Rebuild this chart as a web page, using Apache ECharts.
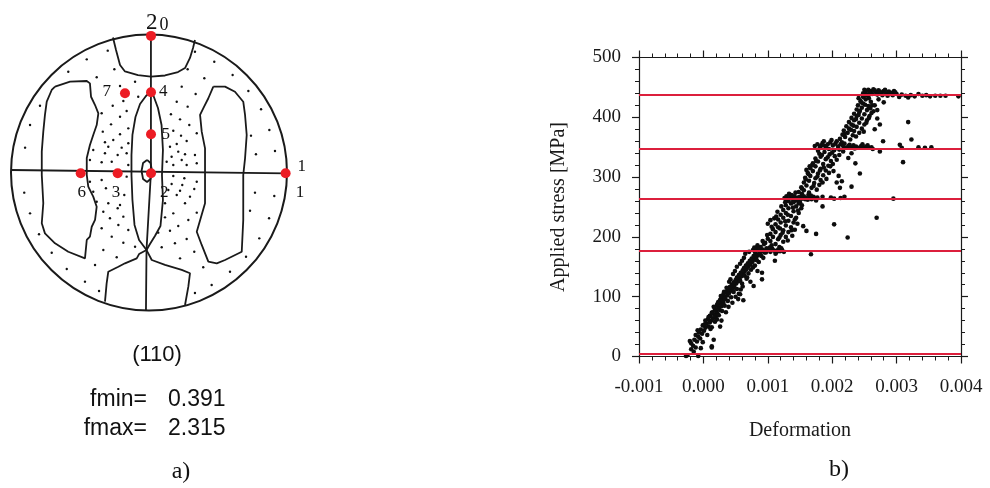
<!DOCTYPE html>
<html><head><meta charset="utf-8">
<script src="https://cdn.jsdelivr.net/npm/echarts@6/dist/echarts.min.js"></script>
<style>html,body{margin:0;padding:0;background:#fff}#c{width:990px;height:488px}</style>
</head><body><div id="c"></div><script>
// ---------- (a) pole figure (110), projection coordinates, unit circle ----------
const topCapContour = [[-0.261,0.978],[-0.239,0.888],[-0.210,0.779],[-0.174,0.732],[-0.080,0.706],[0.014,0.694],[0.116,0.703],[0.210,0.728],[0.261,0.757],[0.297,0.830],[0.319,0.902],[0.333,0.960]];
const leftBlobContour = [[-0.681,0.622],[-0.572,0.658],[-0.451,0.663],[-0.428,0.646],[-0.420,0.549],[-0.391,0.489],[-0.367,0.429],[-0.379,0.344],[-0.404,0.272],[-0.428,0.199],[-0.451,0.105],[-0.451,-0.018],[-0.440,-0.103],[-0.404,-0.175],[-0.379,-0.248],[-0.391,-0.344],[-0.415,-0.393],[-0.428,-0.465],[-0.451,-0.489],[-0.464,-0.622],[-0.585,-0.574],[-0.681,-0.513],[-0.754,-0.441],[-0.777,-0.368],[-0.766,-0.223],[-0.777,-0.018],[-0.777,0.151],[-0.766,0.296],[-0.754,0.417],[-0.741,0.513],[-0.705,0.598],[-0.681,0.622]];
const rightBlobContour = [[0.466,0.622],[0.551,0.622],[0.623,0.585],[0.683,0.513],[0.696,0.417],[0.708,0.272],[0.696,0.103],[0.683,-0.018],[0.683,-0.344],[0.672,-0.574],[0.551,-0.634],[0.491,-0.658],[0.430,-0.646],[0.382,-0.525],[0.346,-0.429],[0.406,-0.223],[0.406,-0.018],[0.406,0.175],[0.382,0.296],[0.370,0.417],[0.393,0.465],[0.430,0.538],[0.466,0.622]];
const centralLensContour = [[0.011,0.583],[-0.022,0.554],[-0.065,0.496],[-0.098,0.402],[-0.120,0.272],[-0.127,0.127],[-0.127,-0.018],[-0.120,-0.199],[-0.105,-0.380],[-0.072,-0.489],[-0.018,-0.562],[0.007,-0.518],[0.043,-0.460],[0.083,-0.388],[0.101,-0.199],[0.094,-0.018],[0.101,0.163],[0.091,0.344],[0.065,0.467],[0.033,0.554],[0.011,0.583]];
const centerLoopContour = [[-0.014,0.091],[0.011,0.069],[0.022,0.011],[0.011,-0.047],[-0.014,-0.069],[-0.043,-0.047],[-0.054,0.011],[-0.043,0.069],[-0.014,0.091]];
const bottomCapLeft = [[-0.018,-0.562],[-0.072,-0.591],[-0.089,-0.622],[-0.174,-0.658],[-0.222,-0.683],[-0.295,-0.719],[-0.307,-0.803],[-0.319,-0.936]];
const bottomCapRight = [[-0.018,-0.562],[0.020,-0.634],[0.116,-0.670],[0.237,-0.706],[0.297,-0.730],[0.285,-0.827],[0.261,-0.960]];
const meridianLine = [[0.014,1.0],[0.014,0.0],[-0.018,-0.56],[-0.022,-1.0]];
const equatorLine = [[-1.0,0.018],[0.993,-0.007]];
const stippleDots = [
[-0.299,0.883],[-0.451,0.820],[-0.251,0.748],[-0.585,0.730],[-0.379,0.690],[-0.210,0.627],[-0.101,0.658],[-0.790,0.484],[-0.263,0.484],[-0.078,0.549],[-0.186,0.518],[-0.862,0.344],[-0.343,0.429],[-0.210,0.404],[-0.275,0.349],[-0.162,0.446],[-0.150,0.320],[-0.335,0.296],[-0.210,0.277],[-0.259,0.235],[-0.319,0.219],[-0.898,0.180],[-0.404,0.163],[-0.295,0.187],[-0.198,0.180],[-0.150,0.212],[-0.319,0.139],[-0.227,0.127],[-0.162,0.139],[-0.428,0.091],[-0.343,0.074],[-0.270,0.078],[-0.150,0.054],
[0.333,0.875],[0.473,0.803],[0.280,0.748],[0.606,0.706],[0.401,0.683],[0.237,0.622],[0.720,0.591],[0.338,0.569],[0.201,0.513],[0.280,0.477],[0.812,0.458],[0.159,0.422],[0.225,0.385],[0.292,0.344],[0.872,0.308],[0.176,0.303],[0.346,0.284],[0.739,0.267],[0.232,0.267],[0.273,0.228],[0.201,0.207],[0.152,0.187],[0.913,0.156],[0.775,0.132],[0.212,0.151],[0.261,0.132],[0.333,0.127],[0.164,0.114],[0.237,0.091],[0.128,0.078],[0.346,0.067],[0.176,0.054],[0.273,0.054],
[-0.428,-0.067],[-0.343,-0.054],[-0.162,-0.030],[-0.904,-0.146],[-0.404,-0.139],[-0.312,-0.114],[-0.179,-0.163],[-0.379,-0.212],[-0.295,-0.223],[-0.210,-0.235],[-0.862,-0.296],[-0.331,-0.284],[-0.227,-0.259],[-0.283,-0.332],[-0.186,-0.320],[-0.343,-0.404],[-0.222,-0.380],[-0.150,-0.417],[-0.797,-0.448],[-0.270,-0.465],[-0.186,-0.509],[-0.101,-0.538],[-0.331,-0.562],[-0.705,-0.581],[-0.234,-0.614],[-0.391,-0.670],[-0.596,-0.699],[-0.464,-0.791],[-0.362,-0.859],
[0.176,-0.025],[0.256,-0.042],[0.346,-0.067],[0.164,-0.083],[0.241,-0.091],[0.140,-0.127],[0.225,-0.132],[0.328,-0.120],[0.201,-0.163],[0.297,-0.175],[0.768,-0.146],[0.908,-0.170],[0.116,-0.223],[0.261,-0.223],[0.346,-0.291],[0.176,-0.296],[0.732,-0.277],[0.116,-0.325],[0.285,-0.344],[0.212,-0.388],[0.870,-0.332],[0.067,-0.436],[0.152,-0.422],[0.273,-0.482],[0.799,-0.477],[0.188,-0.513],[0.092,-0.542],[0.328,-0.574],[0.225,-0.622],[0.703,-0.610],[0.393,-0.687],[0.587,-0.719],[0.454,-0.815],[0.333,-0.873]
];
const measurePoints = [[0.0145,0.99],[0.0145,0.581],[-0.174,0.574],[0.0145,0.277],[0.0145,-0.006],[-0.227,-0.006],[-0.495,-0.006],[0.99,-0.006]];
const measureLabelText = ['2','0','7','4','5','1','1','6','3','2'];
const measureLabelPos = [[0.020,1.085],[0.109,1.069],[-0.307,0.585],[0.104,0.585],[0.121,0.272],[1.106,0.042],[1.094,-0.146],[-0.488,-0.146],[-0.239,-0.146],[0.111,-0.146]];
const measureLabelSize = [23,18,17,17,17,17,17,17,17,17];

// ---------- (b) applied stress vs deformation ----------
const xTicks = [-0.001, 0.000, 0.001, 0.002, 0.003, 0.004];
const stressLevels = [5, 177, 263, 348, 438];
const elasticBand = [[-0.00025,2],[-0.00008,1],[-0.00027,1],[-0.00019,12],[-0.00012,15],[-0.00004,14],[-0.00016,18],[-0.00019,22],[-0.00010,25],[-0.00014,28],[-0.00005,30],[-0.00008,33],[-0.00012,36],[-0.00002,38],[-0.00007,40],[0.00001,43],[-0.00004,45],[0.00003,48],[0.00008,50],[-0.00001,52],[0.00005,55],[0.00010,57],[0.00013,17],[0.00013,15],[0.00016,28],[0.00012,60],[0.00007,62],[0.00015,64],[0.00019,66],[0.00011,68],[0.00017,70],[0.00022,72],[0.00014,74],[0.00020,76],[0.00025,78],[0.00018,80],[0.00024,82],[0.00028,84],[0.00021,86],[0.00027,88],[0.00031,90],[0.00025,92],[0.00030,94],[0.00034,96],[0.00028,98],[0.00033,100],[0.00037,102],[0.00031,104],[0.00040,106],[0.00035,108],[0.00043,110],[0.00038,112],[0.00046,114],[0.00041,116],[0.00048,118],[0.00044,120],[0.00051,122],[0.00047,124],[0.00054,126],[0.00050,128],[0.00056,130],[0.00052,132],[0.00059,134],[0.00055,136],[0.00062,138],[0.00058,140],[0.00064,142],[0.00061,144],[0.00067,146],[0.00063,148],[0.00070,150],[0.00066,152],[0.00073,154],[0.00069,156],[0.00076,158],[0.00072,160],[0.00079,162],[0.00075,164],[0.00082,166],[0.00078,168],[0.00085,170],[0.00081,172],[0.00088,174],[0.00026,50],[0.00013,49],[0.00050,100],[0.00055,105],[0.00026,95],[0.00022,88],[0.00045,90],[0.00058,112],[0.00060,122],[0.00032,108],[0.00040,125],[0.00067,130],[0.00046,138],[0.00074,145],[0.00052,150],[0.00080,152],[0.00086,158],[0.00060,160],[0.00090,168],[0.00065,172],[0.00095,174],[0.00018,78],[0.00035,74],[0.00010,68],[0.00028,60],[0.00003,60],[0.00062,94],[0.00057,104],[0.00078,118],[0.00091,129],[0.00091,140],[0.00111,160],
[-0.00015,8],[-0.00021,26],[-0.00001,24],[0.00006,36],[-0.00009,44],[0.00011,46],[0.00002,54],[0.00018,58],[0.00008,66],[0.00024,69],[0.00013,73],[0.00029,76],[0.00016,83],[0.00033,85],[0.00023,91],[0.00038,93],[0.00027,101],[0.00043,99],[0.00036,115],[0.00052,113],[0.00042,129],[0.00057,127],[0.00049,143],[0.00064,135],[0.00070,139],[0.00057,155],[0.00077,149],[0.00063,165],[0.00083,161],[0.00071,175],[0.00087,171],[0.00093,165],[0.00068,132],[0.00073,125],[0.00047,108],[0.00021,62],[0.00039,83],[0.00054,96],[0.00061,117],[0.00084,143]];
const plateau177 = [[0.00077,178],[0.00080,175],[0.00083,181],[0.00086,177],[0.00089,183],[0.00092,179],[0.00095,176],[0.00098,181],[0.00101,178],[0.00104,175],[0.00107,180],[0.00110,177],[0.00113,174],[0.00116,179],[0.00119,176],[0.00122,178],[0.00125,175],[0.00084,186],[0.00094,188],[0.00088,172],[0.00112,172],[0.00118,183],[0.00106,186],[0.00079,182],[0.00087,180],[0.00097,174],[0.00103,182],[0.00115,176],[0.00121,181],[0.00091,176]];
const band177to263 = [[0.00096,190],[0.00104,193],[0.00112,188],[0.00100,197],[0.00108,200],[0.00116,196],[0.00124,192],[0.00104,205],[0.00112,208],[0.00120,203],[0.00128,200],[0.00108,213],[0.00116,216],[0.00124,211],[0.00132,208],[0.00112,221],[0.00120,224],[0.00128,219],[0.00136,216],[0.00116,229],[0.00124,232],[0.00132,227],[0.00140,224],[0.00120,237],[0.00128,240],[0.00136,235],[0.00144,232],[0.00124,245],[0.00132,248],[0.00140,243],[0.00148,240],[0.00128,253],[0.00136,256],[0.00144,251],[0.00152,248],[0.00132,260],[0.00140,258],[0.00148,256],[0.00104,228],[0.00100,222],[0.00092,193],[0.00138,202],[0.00142,212],[0.00146,222],
[0.00099,203],[0.00118,199],[0.00131,194],[0.00106,217],[0.00123,207],[0.00137,211],[0.00119,214],[0.00110,231],[0.00127,226],[0.00142,229],[0.00115,242],[0.00131,237],[0.00147,244],[0.00121,251],[0.00139,249],[0.00153,253],[0.00127,258],[0.00145,261],[0.00113,234]];
const plateau263 = [[0.00126,265],[0.00129,268],[0.00132,263],[0.00135,267],[0.00138,264],[0.00141,268],[0.00144,265],[0.00147,262],[0.00150,267],[0.00153,264],[0.00156,268],[0.00159,265],[0.00162,262],[0.00165,266],[0.00168,263],[0.00171,267],[0.00174,264],[0.00177,266],[0.00185,267],[0.00198,266],[0.00203,264],[0.00213,265],[0.00219,267],[0.00133,272],[0.00143,274],[0.00153,272],[0.00163,270],[0.00140,260],[0.00150,258],[0.00128,262],[0.00137,270],[0.00146,266],[0.00158,263],[0.00167,269],[0.00175,261]];
const band263to348 = [[0.00148,275],[0.00156,278],[0.00164,274],[0.00152,283],[0.00160,286],[0.00168,282],[0.00176,279],[0.00156,291],[0.00164,294],[0.00172,290],[0.00180,287],[0.00158,299],[0.00166,302],[0.00174,298],[0.00182,295],[0.00162,307],[0.00170,310],[0.00178,306],[0.00186,303],[0.00166,315],[0.00174,318],[0.00182,314],[0.00190,311],[0.00170,323],[0.00178,326],[0.00186,322],[0.00194,319],[0.00174,331],[0.00182,334],[0.00190,330],[0.00198,327],[0.00180,339],[0.00188,342],[0.00196,338],[0.00204,335],[0.00160,312],[0.00165,318],
[0.00153,281],[0.00171,285],[0.00185,291],[0.00159,296],[0.00177,301],[0.00191,297],[0.00163,305],[0.00181,311],[0.00195,307],[0.00169,320],[0.00187,316],[0.00201,322],[0.00175,327],[0.00193,333],[0.00207,329],[0.00184,337],[0.00200,341],[0.00211,337],[0.00178,344]];
const plateau348 = [[0.00173,352],[0.00177,355],[0.00181,350],[0.00185,357],[0.00189,352],[0.00193,355],[0.00197,358],[0.00201,353],[0.00205,356],[0.00209,351],[0.00213,355],[0.00217,352],[0.00221,349],[0.00225,352],[0.00229,350],[0.00233,353],[0.00237,351],[0.00241,349],[0.00245,352],[0.00249,350],[0.00253,351],[0.00257,349],[0.00261,350],[0.00195,347],[0.00203,345],[0.00211,346],[0.00199,362],[0.00207,360],[0.00215,358],[0.00187,360],[0.00305,354],[0.00308,349],[0.00334,350],[0.00344,349],[0.00354,350],[0.00183,353],[0.00191,349],[0.00219,356],[0.00227,354],[0.00235,348],[0.00247,355],[0.00255,353],[0.00263,347]];
const band348to438 = [[0.00212,364],[0.00220,367],[0.00228,363],[0.00216,371],[0.00224,374],[0.00232,370],[0.00218,378],[0.00226,381],[0.00234,377],[0.00242,374],[0.00222,385],[0.00230,388],[0.00238,384],[0.00246,381],[0.00226,392],[0.00234,395],[0.00242,391],[0.00250,388],[0.00230,399],[0.00238,402],[0.00246,398],[0.00254,395],[0.00234,406],[0.00242,409],[0.00250,405],[0.00258,402],[0.00238,413],[0.00246,416],[0.00254,412],[0.00240,420],[0.00248,423],[0.00256,419],[0.00244,427],[0.00252,430],[0.00260,426],[0.00248,434],[0.00264,410],[0.00262,420],
[0.00219,372],[0.00237,368],[0.00229,379],[0.00249,376],[0.00233,386],[0.00253,391],[0.00237,397],[0.00257,399],[0.00241,404],[0.00261,407],[0.00243,411],[0.00259,415],[0.00251,421],[0.00245,425],[0.00257,432],[0.00253,437],[0.00241,432]];
const plateau438 = [[0.00248,440],[0.00252,443],[0.00256,446],[0.00260,444],[0.00264,447],[0.00268,442],[0.00272,445],[0.00276,441],[0.00280,444],[0.00284,440],[0.00288,443],[0.00292,441],[0.00296,444],[0.00300,439],[0.00254,438],[0.00262,439],[0.00270,438],[0.00278,437],[0.00286,436],[0.00294,437],[0.00304,434],[0.00308,438],[0.00314,436],[0.00318,433],[0.00322,437],[0.00328,435],[0.00334,439],[0.00340,436],[0.00346,437],[0.00352,435],[0.00360,436],[0.00368,436],[0.00376,436],[0.00396,435],[0.00272,430],[0.00280,425],[0.00266,420],[0.00270,412],[0.00258,441],[0.00266,445],[0.00274,443],[0.00282,446],[0.00290,439],[0.00298,442],[0.00250,446]];
const strayPoints = [[0.00155,218],[0.00160,210],[0.00175,205],[0.00167,171],[0.00203,221],[0.00224,199],[0.00269,232],[0.00295,264],[0.00185,251],[0.00197,318],[0.00202,310],[0.00210,302],[0.00215,293],[0.00212,282],[0.00225,332],[0.00230,340],[0.00243,306],[0.00230,284],[0.00217,343],[0.00207,291],[0.00236,323],[0.00274,343],[0.00279,360],[0.00274,388],[0.00318,392],[0.00323,363],[0.00310,325],[0.00270,398],[0.00266,380]];

const serif = '"Liberation Serif", "Times New Roman", serif';
const sans = '"Liberation Sans", Arial, sans-serif';
const ink = '#1a1a1a';

const contour = (data) => ({type:'line', xAxisIndex:0, yAxisIndex:0, data, symbol:'none', showSymbol:false, silent:true, clip:false, lineStyle:{color:ink, width:1.8, opacity:1}, z:3});

const frameLine = {show:true, onZero:false, lineStyle:{color:ink, width:1.2}};
const frameTick = {show:true, inside:false, length:7, lineStyle:{color:ink, width:1.2}};
const frameMinor = {show:true, splitNumber:5, length:4, lineStyle:{color:ink, width:1}};

const allPoints = [].concat(elasticBand, plateau177, band177to263, plateau263, band263to348, plateau348, band348to438, plateau438, strayPoints);

const option = {
  animation:false,
  backgroundColor:'#fff',
  grid:[
    {left:11, top:34.5, width:276, height:276},
    {left:639, top:57.5, width:322, height:299}
  ],
  polar:{center:[149,172.5], radius:138},
  angleAxis:{min:0, max:360, axisLine:{show:true, lineStyle:{color:ink, width:2}}, axisTick:{show:false}, axisLabel:{show:false}, splitLine:{show:false}},
  radiusAxis:{min:0, max:1, show:false},
  xAxis:[
    {gridIndex:0, type:'value', min:-1, max:1, show:false},
    {gridIndex:1, type:'value', min:-0.001, max:0.004, interval:0.001, position:'bottom',
      axisLine:frameLine, axisTick:frameTick, minorTick:frameMinor, splitLine:{show:false},
      axisLabel:{formatter:(v)=>v.toFixed(3), fontFamily:serif, fontSize:19, color:ink, margin:21},
      name:'Deformation', nameLocation:'middle', nameGap:64, nameTextStyle:{fontFamily:serif, fontSize:20, color:ink}},
    {gridIndex:1, type:'value', min:-0.001, max:0.004, interval:0.001, position:'top',
      axisLine:frameLine, axisTick:frameTick, minorTick:frameMinor, splitLine:{show:false}, axisLabel:{show:false}}
  ],
  yAxis:[
    {gridIndex:0, type:'value', min:-1, max:1, show:false},
    {gridIndex:1, type:'value', min:0, max:500, interval:100, position:'left',
      axisLine:frameLine, axisTick:frameTick, minorTick:frameMinor, splitLine:{show:false},
      axisLabel:{fontFamily:serif, fontSize:19, color:ink, margin:18},
      name:'Applied stress [MPa]', nameLocation:'middle', nameGap:70, nameTextStyle:{fontFamily:serif, fontSize:20, color:ink}},
    {gridIndex:1, type:'value', min:0, max:500, interval:100, position:'right',
      axisLine:frameLine, axisTick:frameTick, minorTick:frameMinor, splitLine:{show:false}, axisLabel:{show:false}}
  ],
  series:[
    contour(topCapContour), contour(leftBlobContour), contour(rightBlobContour), contour(centralLensContour),
    contour(centerLoopContour), contour(bottomCapLeft), contour(bottomCapRight), contour(meridianLine), contour(equatorLine),
    {type:'scatter', xAxisIndex:0, yAxisIndex:0, data:stippleDots, symbolSize:2.4, itemStyle:{color:'#111', opacity:1}, silent:true, z:2},
    {type:'scatter', xAxisIndex:0, yAxisIndex:0, data:measurePoints, symbolSize:10, clip:false, itemStyle:{color:'#ec1c24', opacity:1}, silent:true, z:6},
    {type:'scatter', xAxisIndex:0, yAxisIndex:0, clip:false, symbolSize:0, silent:true, z:7, itemStyle:{opacity:1},
      data:measureLabelPos.map((p,i)=>({value:p, name:measureLabelText[i], label:{fontSize:measureLabelSize[i]}})),
      label:{show:true, position:'inside', formatter:'{b}', fontFamily:serif, color:'#111', opacity:1}},
    {type:'scatter', xAxisIndex:1, yAxisIndex:1, data:[], silent:true, z:1,
      markLine:{silent:true, symbol:['none','none'], label:{show:false}, animation:false,
        lineStyle:{color:'#dc1f3c', width:2, type:'solid', opacity:1}, emphasis:{disabled:true},
        data:stressLevels.map(v=>({yAxis:v}))}},
    {type:'scatter', xAxisIndex:1, yAxisIndex:1, data:allPoints, symbolSize:4.6, itemStyle:{color:'#0d0d0d', opacity:1}, silent:true, z:4}
  ],
  graphic:[
    {type:'text', x:157, y:355, style:{text:'(110)', font:'22px ' + sans, fill:'#111', textAlign:'center', textVerticalAlign:'middle'}},
    {type:'text', x:147, y:400, style:{text:'fmin=', font:'23px ' + sans, fill:'#111', textAlign:'right', textVerticalAlign:'middle'}},
    {type:'text', x:168, y:400, style:{text:'0.391', font:'23px ' + sans, fill:'#111', textAlign:'left', textVerticalAlign:'middle'}},
    {type:'text', x:147, y:428.5, style:{text:'fmax=', font:'23px ' + sans, fill:'#111', textAlign:'right', textVerticalAlign:'middle'}},
    {type:'text', x:168, y:428.5, style:{text:'2.315', font:'23px ' + sans, fill:'#111', textAlign:'left', textVerticalAlign:'middle'}},
    {type:'text', x:181, y:472, style:{text:'a)', font:'24px ' + serif, fill:'#111', textAlign:'center', textVerticalAlign:'middle'}},
    {type:'text', x:839, y:470, style:{text:'b)', font:'24px ' + serif, fill:'#111', textAlign:'center', textVerticalAlign:'middle'}}
  ]
};
const chart = echarts.init(document.getElementById('c'), null, {renderer:'canvas'});
chart.setOption(option);
</script></body></html>
